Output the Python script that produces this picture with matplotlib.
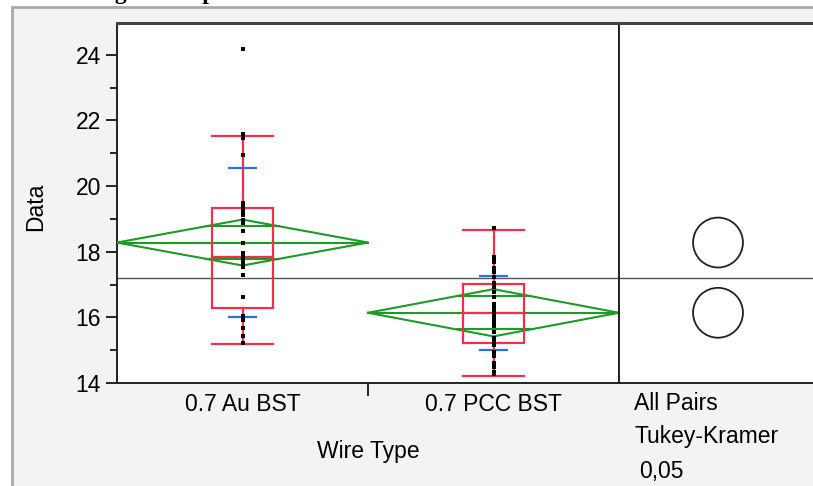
import numpy as np
import matplotlib
matplotlib.use("Agg")
import matplotlib.pyplot as plt
from matplotlib.patches import Rectangle, Circle

plt.rcParams['font.family'] = ['Liberation Sans', 'DejaVu Sans']

# --- DATA ---
groups = ["0.7 Au BST", "0.7 PCC BST"]

au_points = [24.18, 21.58, 21.52, 21.48, 20.96, 19.48, 19.36, 19.25, 19.12,
             18.97, 18.88, 18.62, 18.27, 17.95, 17.85, 17.78, 17.70, 17.62,
             17.55, 17.28, 16.62, 16.05, 15.92, 15.67, 15.42, 15.22]
pcc_points = [18.72, 17.85, 17.75, 17.68, 17.50, 17.38, 17.24, 17.05, 16.92,
              16.78, 16.62, 16.40, 16.32, 16.20, 16.10, 15.98, 15.85, 15.75,
              15.56, 15.38, 15.28, 15.16, 14.95, 14.82, 14.62, 14.48, 14.35,
              14.26]

# summary statistics per group (quantile box, whiskers, mean diamond, sd bars)
q1 = [16.28, 15.23]
median = [17.85, 16.12]
q3 = [19.33, 17.01]
whisk_lo = [15.19, 14.21]
whisk_hi = [21.53, 18.66]
means = [18.28, 16.14]
ci95 = [0.70, 0.72]
sd = [2.28, 1.12]

grand_mean = 17.20
circle_radius = [0.76, 0.76]

yticks = [14, 16, 18, 20, 22, 24]

# --- COLOURS ---
RED = '#f0304a'
GREEN = '#1e9a28'
BLUE = '#2f6fe8'
BG = '#f3f3f3'

W, H = 813, 486
fig = plt.figure(figsize=(W / 100, H / 100), dpi=100)
fig.patch.set_facecolor('white')

def px_box(x0, y0, x1, y1):
    """pixel box (top-left origin) -> figure fraction [l, b, w, h]"""
    return [x0 / W, 1 - y1 / H, (x1 - x0) / W, (y1 - y0) / H]

# outer report frame (light gray panel with border)
fig.add_artist(Rectangle((12 / W, -0.01), 1.0, 1 - 7 / H + 0.01,
                         transform=fig.transFigure, facecolor=BG,
                         edgecolor='#a8a8a8', linewidth=2, zorder=0))

# clipped heading of the report, only the descenders are visible
fig.text(60 / W, 1 + 1 / H, "Strength Comparison", fontsize=17,
         family='Liberation Serif', weight='bold', ha='left', va='baseline')

ax = fig.add_axes(px_box(117, 23, 619, 383))
axr = fig.add_axes(px_box(619, 23, 840, 383))

ylo, yhi = 14, 24.97
for a in (ax, axr):
    a.set_ylim(ylo, yhi)
    a.set_facecolor('white')
    for s in a.spines.values():
        s.set_color('#222222')
        s.set_linewidth(1.4)
    a.spines['top'].set_color('#444444')
    a.spines['top'].set_linewidth(2.2)

# --- MAIN PANEL ---
ax.set_xlim(-0.5, 1.5)
all_points = [au_points, pcc_points]
box_hw = 0.12
sd_hw = 0.052

ax.axhline(grand_mean, color='#555555', linewidth=1.0, zorder=1)

for i, pts in enumerate(all_points):
    m, c = means[i], ci95[i]
    # mean diamond
    ax.plot([i - 0.5, i, i + 0.5, i, i - 0.5], [m, m + c, m, m - c, m],
            color=GREEN, linewidth=1.5, zorder=3)
    ax.plot([i - 0.5, i + 0.5], [m, m], color=GREEN, linewidth=1.5, zorder=3)
    h = c / np.sqrt(2)
    hw = 0.5 * (1 - h / c)
    for yy in (m + h, m - h):
        ax.plot([i - hw, i + hw], [yy, yy], color=GREEN, linewidth=1.5, zorder=3)

    # quantile box with whiskers
    ax.add_patch(Rectangle((i - box_hw, q1[i]), 2 * box_hw, q3[i] - q1[i],
                           fill=False, edgecolor=RED, linewidth=1.6, zorder=4))
    ax.plot([i - box_hw, i + box_hw], [median[i]] * 2, color=RED, linewidth=1.6, zorder=4)
    ax.plot([i, i], [q3[i], whisk_hi[i]], color=RED, linewidth=1.6, zorder=4)
    ax.plot([i, i], [whisk_lo[i], q1[i]], color=RED, linewidth=1.6, zorder=4)
    for yy in (whisk_lo[i], whisk_hi[i]):
        ax.plot([i - box_hw, i + box_hw], [yy, yy], color=RED, linewidth=1.6, zorder=4)

    # std dev bars
    for yy in (m - sd[i], m + sd[i]):
        ax.plot([i - sd_hw, i + sd_hw], [yy, yy], color=BLUE, linewidth=1.6, zorder=5)

    # raw data points
    ax.plot(np.full(len(pts), i), pts, 's', color='black', markersize=3.0,
            markeredgewidth=0, zorder=6)

# axes ticks
ax.set_yticks(yticks)
ax.set_yticks(np.arange(15, 25, 2), minor=True)
ax.tick_params(axis='y', which='major', length=8, width=1.2, pad=3.5,
               labelsize=16.5, direction='out')
ax.tick_params(axis='y', which='minor', length=5, width=1.2, direction='out')
ax.set_xticks([0, 1])
ax.set_xticklabels(groups)
ax.set_xticks([0.5], minor=True)
ax.tick_params(axis='x', which='major', length=0, pad=7, labelsize=16.5)
ax.tick_params(axis='x', which='minor', length=9, width=1.2, direction='out')

ax.set_ylabel("Data", fontsize=16.5, va='center')
ax.yaxis.set_label_coords(-0.163, 0.49)
ax.set_xlabel("Wire Type", fontsize=16.5, va='center')
ax.xaxis.set_label_coords(0.5, -0.19)

# --- COMPARISON CIRCLES PANEL ---
# x in the same screen scale as y so the circles stay round
px_per_unit = 360 / (yhi - ylo)
axr_w_units = (840 - 619) / px_per_unit
axr.set_xlim(0, axr_w_units)
axr.set_xticks([])
axr.set_yticks([])
axr.axhline(grand_mean, color='#555555', linewidth=1.0, zorder=1)
cx = (718 - 619) / px_per_unit
for i in range(len(groups)):
    axr.add_patch(Circle((cx, means[i]), circle_radius[i], fill=False,
                         edgecolor='#222222', linewidth=1.3, zorder=3))

fig.text(634 / W, 1 - 403 / H, "All Pairs", fontsize=16.5, ha='left', va='center')
fig.text(634 / W, 1 - 437 / H, "Tukey-Kramer", fontsize=16.5, ha='left', va='center')
fig.text(639 / W, 1 - 471 / H, "0,05", fontsize=16.5, ha='left', va='center')

fig.savefig("out.png", dpi=100)
